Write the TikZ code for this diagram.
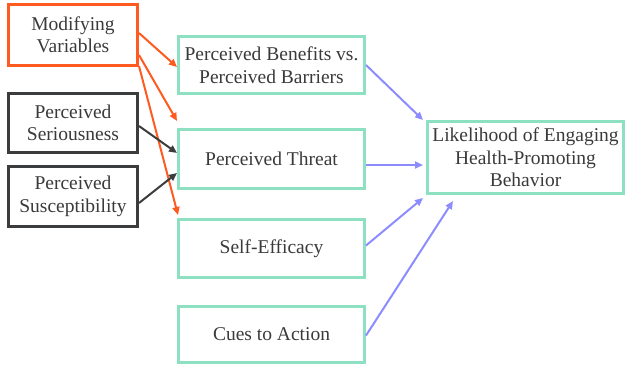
\documentclass[tikz,border=0pt]{standalone}
\usepackage{fontspec}
\setmainfont{Liberation Serif}
\usetikzlibrary{arrows.meta,calc}
\definecolor{orng}{HTML}{FF5A1F}
\definecolor{dgray}{HTML}{3A3C3E}
\definecolor{teal}{HTML}{8DE0C2}
\definecolor{blu}{HTML}{8C8CFF}
\definecolor{txt}{HTML}{3A3A3A}
\tikzset{
  box/.style={draw, line width=3pt, rectangle, align=center, text=txt,
    font=\fontsize{19.5}{22.5}\selectfont, inner sep=0pt},
  obox/.style={box, draw=orng},
  gbox/.style={box, draw=dgray},
  tbox/.style={box, draw=teal},
  arr/.style={line width=2pt, -{Triangle[length=8pt,width=7pt]}},
  oarr/.style={arr, draw=orng, fill=orng},
  garr/.style={arr, draw=dgray},
  barr/.style={arr, draw=blu},
}
\begin{document}
\begin{tikzpicture}[x=1pt,y=-1pt]
\useasboundingbox (0,0) rectangle (626,365);
\node[obox, minimum width=129pt, minimum height=61pt] (mv) at (73,35) {Modifying\\Variables};
\node[gbox, minimum width=129pt, minimum height=59pt] (ser) at (73,123) {Perceived\\Seriousness};
\node[gbox, minimum width=129pt, minimum height=60pt] (sus) at (73,196.5) {Perceived\\Susceptibility};
\node[tbox, minimum width=186pt, minimum height=57pt] (ben) at (271.5,65) {Perceived Benefits vs.\\Perceived Barriers};
\node[tbox, minimum width=186pt, minimum height=59pt] (thr) at (271.5,159) {Perceived Threat};
\node[tbox, minimum width=186pt, minimum height=58pt] (self) at (271.5,248.5) {Self-Efficacy};
\node[tbox, minimum width=186pt, minimum height=56pt] (cues) at (271.5,334.5) {Cues to Action};
\node[tbox, minimum width=196pt, minimum height=72pt] (lik) at (525.5,157.5) {Likelihood of Engaging\\Health-Promoting\\Behavior};
\coordinate (t2) at ($(thr.north west)+(0,-7)$);
\coordinate (t3) at ($(self.north west)+(1,-3)$);
\draw[oarr] ([yshift=2pt]mv.east) -- ([yshift=-2pt]ben.west);
\draw[oarr] ([yshift=-20pt]mv.east) -- (t2);
\draw[oarr] ([yshift=-31pt]mv.east) -- (t3);
\draw[garr] ([yshift=-3pt]ser.east) -- ([yshift=6pt]thr.west);
\draw[garr] ([yshift=-6.5pt]sus.east) -- ([yshift=-14pt]thr.west);
\draw[barr] (ben.east) -- ([xshift=-3pt]lik.north west);
\draw[barr] ([yshift=-6pt]thr.east) -- ([xshift=-3pt,yshift=-7.5pt]lik.west);
\draw[barr] ([yshift=3pt]self.east) -- ([xshift=-3pt,yshift=-3pt]lik.south west);
\draw[barr] ([yshift=-1pt]cues.east) -- ([xshift=27pt,yshift=-6pt]lik.south west);
\end{tikzpicture}
\end{document}
